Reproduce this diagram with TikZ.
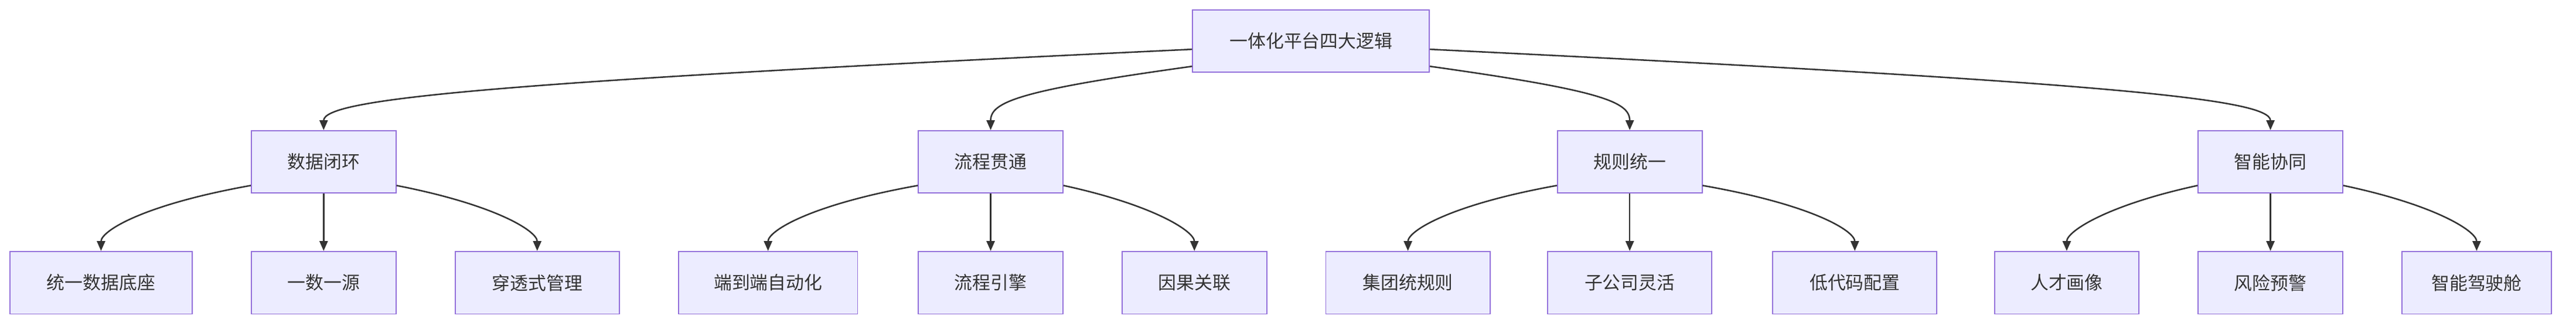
\documentclass[tikz,border=0pt]{standalone}
\usepackage{fontspec}
\setmainfont{Noto Sans CJK SC}
\usetikzlibrary{arrows.meta,calc}
\begin{document}
\begin{tikzpicture}[x=1pt,y=-1pt,
  box/.style={draw=mmstroke,fill=mmfill,line width=0.7pt,minimum height=38pt,inner sep=0pt,font=\fontsize{11}{13}\selectfont,text=mmtext},
  edge/.style={draw=mmedge,line width=0.9pt,-{Triangle[length=6pt,width=5pt]}}]
\definecolor{mmstroke}{HTML}{9370DB}
\definecolor{mmfill}{HTML}{ECECFF}
\definecolor{mmedge}{HTML}{333333}
\definecolor{mmtext}{HTML}{333333}
\useasboundingbox (0,0) rectangle (1568,198);
\node[box,minimum width=144pt] (r) at (798,25) {一体化平台四大逻辑};
\node[box,minimum width=88pt] (a) at (197,98.5) {数据闭环};
\node[box,minimum width=88pt] (b) at (603,98.5) {流程贯通};
\node[box,minimum width=88pt] (c) at (992,98.5) {规则统一};
\node[box,minimum width=88pt] (d) at (1382,98.5) {智能协同};
\node[box,minimum width=111pt] (a1) at (61.5,172) {统一数据底座};
\node[box,minimum width=88pt] (a2) at (197,172) {一数一源};
\node[box,minimum width=100pt] (a3) at (327,172) {穿透式管理};
\node[box,minimum width=109pt] (b1) at (467.5,172) {端到端自动化};
\node[box,minimum width=88pt] (b2) at (603,172) {流程引擎};
\node[box,minimum width=88pt] (b3) at (727,172) {因果关联};
\node[box,minimum width=100pt] (c1) at (857,172) {集团统规则};
\node[box,minimum width=100pt] (c2) at (992,172) {子公司灵活};
\node[box,minimum width=100pt] (c3) at (1129,172) {低代码配置};
\node[box,minimum width=88pt] (d1) at (1258,172) {人才画像};
\node[box,minimum width=88pt] (d2) at (1382,172) {风险预警};
\node[box,minimum width=91pt] (d3) at (1507.5,172) {智能驾驶舱};
% root edges
\draw[edge] ($(r.west)+(0,5)$) .. controls (300,50) and (197,60) .. (a.north);
\draw[edge] ($(r.south west)+(0,-4)$) .. controls (620,55) and (603,62) .. (b.north);
\draw[edge] ($(r.south east)+(0,-4)$) .. controls (975,55) and (992,62) .. (c.north);
\draw[edge] ($(r.east)+(0,5)$) .. controls (1280,50) and (1382,60) .. (d.north);
% level 2
\foreach \p/\l/\m/\rr in {a/a1/a2/a3,b/b1/b2/b3,c/c1/c2/c3,d/d1/d2/d3}{
  \draw[edge] ($(\p.south west)+(0,-5)$) .. controls ($(\l.north)+(25,-28)$) and ($(\l.north)+(0,-12)$) .. (\l.north);
  \draw[edge] (\p.south) -- (\m.north);
  \draw[edge] ($(\p.south east)+(0,-5)$) .. controls ($(\rr.north)+(-25,-28)$) and ($(\rr.north)+(0,-12)$) .. (\rr.north);
}
\end{tikzpicture}
\end{document}
